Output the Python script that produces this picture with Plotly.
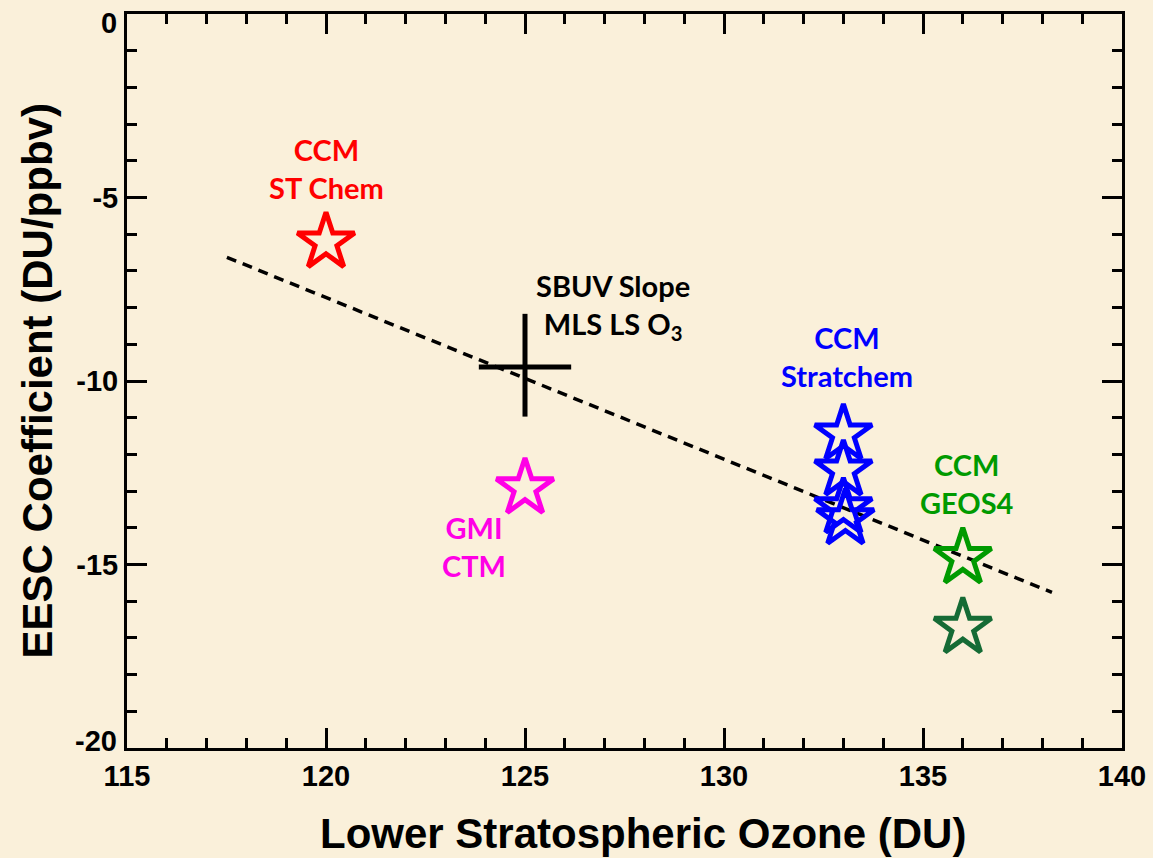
import plotly.graph_objects as go

# ---- data ----
ccm_st_chem_x = [120.0]
ccm_st_chem_y = [-6.22]

gmi_ctm_x = [125.0]
gmi_ctm_y = [-12.92]

ccm_stratchem_x = [133.0, 133.0, 133.0, 133.05]
ccm_stratchem_y = [-11.45, -12.43, -13.46, -13.76]

ccm_geos4_x = [136.0]
ccm_geos4_y = [-14.82]

ccm_geos4b_x = [136.0]
ccm_geos4b_y = [-16.72]

sbuv_x = [125.0]
sbuv_y = [-9.62]
sbuv_xerr = [1.16]
sbuv_yerr_plus = [1.45]
sbuv_yerr_minus = [1.35]

fit_x = [117.51, 138.24]
fit_y = [-6.63, -15.76]

x_ticks = [115, 120, 125, 130, 135, 140]
y_ticks = [0, -5, -10, -15, -20]
# end labels (0, -20) are drawn nudged inward, IDL-style
y_end_ticks = [0, -20]
y_end_shift = [-9, 7]

BG = "#FAF0DA"
LABEL_FONT = "Lato"
AXIS_FONT = "Liberation Sans Narrow, Arial Narrow, Liberation Sans, Arial"
TICK_SIZE = 29

fig = go.Figure()

fig.add_trace(go.Scatter(x=fit_x, y=fit_y, mode="lines",
                         line=dict(color="black", width=3.5, dash="10px,7px"),
                         showlegend=False, hoverinfo="skip"))

fig.add_trace(go.Scatter(x=sbuv_x, y=sbuv_y, mode="markers",
                         marker=dict(size=1, color="rgba(0,0,0,0)"),
                         error_x=dict(type="data", array=sbuv_xerr, color="black", thickness=5, width=0),
                         error_y=dict(type="data", array=sbuv_yerr_plus, arrayminus=sbuv_yerr_minus,
                                      symmetric=False, color="black", thickness=5, width=0),
                         showlegend=False))

def stars(x, y, color):
    fig.add_trace(go.Scatter(x=x, y=y, mode="markers",
                             marker=dict(symbol="star-open", size=43, color=color,
                                         line=dict(color=color, width=5)),
                             showlegend=False))

stars(ccm_st_chem_x, ccm_st_chem_y, "#FF0000")
stars(gmi_ctm_x, gmi_ctm_y, "#FF00E6")
stars(ccm_stratchem_x, ccm_stratchem_y, "#0000FF")
stars(ccm_geos4_x, ccm_geos4_y, "#009A00")
stars(ccm_geos4b_x, ccm_geos4b_y, "#156B35")

labels = [
    ("CCM<br>ST Chem", 120.0, -4.2, "#FF0000"),
    ("SBUV Slope<br>MLS LS O<sub>3</sub>", 127.2, -7.96, "#000000"),
    ("CCM<br>Stratchem", 133.1, -9.34, "#0000FF"),
    ("CCM<br>GEOS4", 136.1, -12.8, "#009A00"),
    ("GMI<br>CTM", 123.72, -14.51, "#FF00E6"),
]
for text, x, y, c in labels:
    fig.add_annotation(x=x, y=y, xref="x", yref="y", text=text, showarrow=False,
                       font=dict(family=LABEL_FONT, size=29, color=c, weight="bold"),
                       align="center", xanchor="center", yanchor="middle")

for v, s in zip(y_end_ticks, y_end_shift):
    fig.add_annotation(x=0, y=v, xref="paper", yref="y", text=str(v), showarrow=False,
                       font=dict(family=AXIS_FONT, size=TICK_SIZE, color="black", weight="bold"),
                       xanchor="right", yanchor="middle", xshift=-8, yshift=s)

fig.add_annotation(x=0.519, y=-0.117, xref="paper", yref="paper",
                   text="Lower Stratospheric Ozone (DU)", showarrow=False,
                   font=dict(family="Liberation Sans, Arial", size=42, color="black", weight="bold"),
                   xanchor="center", yanchor="middle")
fig.add_annotation(x=-0.09, y=0.5, xref="paper", yref="paper",
                   text="EESC Coefficient (DU/ppbv)", showarrow=False, textangle=-90,
                   font=dict(family="Liberation Sans, Arial", size=42, color="black", weight="bold"),
                   xanchor="center", yanchor="middle")

axis_common = dict(showline=True, linecolor="black", linewidth=3, mirror="ticks",
                   ticks="inside", ticklen=20, tickwidth=3, tickcolor="black",
                   showgrid=False, zeroline=False, ticklabeloverflow="allow",
                   tickfont=dict(family=AXIS_FONT, size=TICK_SIZE, color="black", weight="bold"),
                   minor=dict(ticks="inside", ticklen=10, tickwidth=3, tickcolor="black",
                              dtick=1, showgrid=False))

fig.update_xaxes(range=[115, 140], tickvals=x_ticks, ticktext=[str(v) for v in x_ticks], **axis_common)
fig.update_yaxes(range=[-20, 0], tickvals=y_ticks,
                 ticktext=["" if v in y_end_ticks else str(v) for v in y_ticks], **axis_common)

fig.update_layout(width=1153, height=858, paper_bgcolor=BG, plot_bgcolor=BG,
                  margin=dict(l=127, r=31, t=14, b=110, autoexpand=False),
                  showlegend=False)

fig.write_html("out.html", config={"displayModeBar": False},
               post_script="document.body.style.margin='0';document.body.style.background='%s';" % BG)
